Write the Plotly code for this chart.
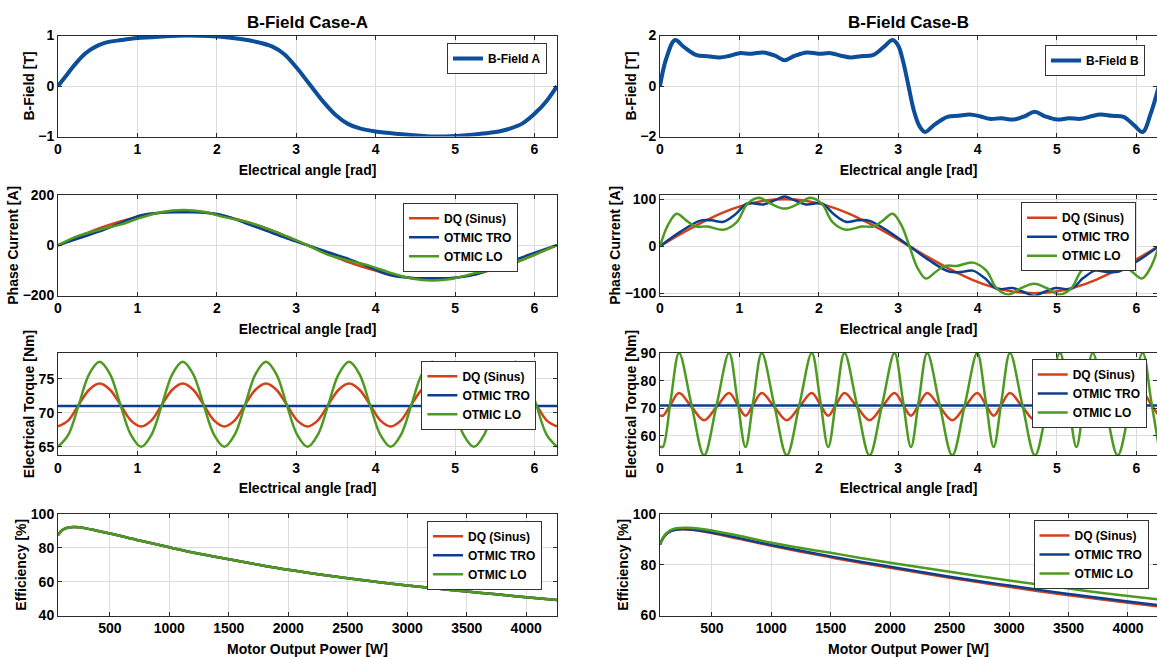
import numpy as np
import plotly.graph_objects as go

# ---------------- data ----------------
angle_a1 = [0, 0.1, 0.2, 0.3, 0.4, 0.5, 0.6, 0.8, 1.0, 1.3, 1.6, 1.9, 2.2, 2.45, 2.7, 2.85,
            3.0, 3.17, 3.35, 3.5, 3.65, 3.8, 4.0, 4.3, 4.7, 5.0, 5.3, 5.55, 5.7, 5.85, 6.0, 6.15, 6.283]
bfield_a = [0, 0.2, 0.4, 0.58, 0.71, 0.8, 0.86, 0.91, 0.95, 0.98, 1.0, 0.99, 0.95, 0.89, 0.78, 0.63,
            0.37, 0.03, -0.33, -0.58, -0.75, -0.84, -0.9, -0.95, -1.0, -0.99, -0.95, -0.9, -0.84, -0.74, -0.55, -0.3, 0]

angle_b1 = [0, 0.08, 0.19, 0.3, 0.46, 0.6, 0.75, 0.88, 1.0, 1.15, 1.3, 1.45, 1.57, 1.7, 1.85, 2.0, 2.15,
            2.28, 2.4, 2.53, 2.68, 2.82, 2.93, 3.0, 3.06, 3.13, 3.2, 3.27, 3.34, 3.45, 3.62, 3.76, 3.9,
            4.03, 4.15, 4.3, 4.45, 4.59, 4.72, 4.85, 5.0, 5.15, 5.3, 5.43, 5.55, 5.69, 5.84, 5.97, 6.08,
            6.18, 6.283]
bfield_b = [0, 1.1, 1.82, 1.55, 1.22, 1.18, 1.13, 1.2, 1.3, 1.28, 1.33, 1.2, 1.02, 1.2, 1.33, 1.28, 1.3,
            1.2, 1.13, 1.18, 1.22, 1.55, 1.82, 1.6, 1.0, 0, -1.0, -1.6, -1.82, -1.55, -1.22, -1.18, -1.13,
            -1.2, -1.3, -1.28, -1.33, -1.2, -1.02, -1.2, -1.33, -1.28, -1.3, -1.2, -1.13, -1.18, -1.22,
            -1.55, -1.82, -1.1, 0]

angle_15 = [0, 0.262, 0.524, 0.785, 1.047, 1.309, 1.571, 1.833, 2.094, 2.356, 2.618, 2.88, 3.142,
            3.403, 3.665, 3.927, 4.189, 4.451, 4.712, 4.974, 5.236, 5.498, 5.76, 6.021, 6.283]
current_a_dq = [0, 35, 68, 95, 117, 130, 135, 130, 117, 95, 68, 35, 0,
                -35, -68, -95, -117, -130, -135, -130, -117, -95, -68, -35, 0]
current_a_tro = [0, 28, 55, 88, 120, 130, 131, 130, 118, 88, 58, 28, 0,
                 -28, -55, -88, -120, -130, -131, -130, -118, -88, -58, -28, 0]
current_a_lo = [0, 38, 62, 82, 110, 132, 140, 133, 112, 95, 68, 35, 0,
                -38, -62, -82, -110, -132, -140, -133, -112, -95, -68, -35, 0]

current_b_dq = [0, 26, 50, 71, 87, 97, 100, 97, 87, 71, 50, 26, 0,
                -26, -50, -71, -87, -97, -100, -97, -87, -71, -50, -26, 0]
angle_b2_tro = [0, 0.25, 0.5, 0.65, 0.8, 0.95, 1.1, 1.3, 1.45, 1.57, 1.69, 1.84, 2.04, 2.19, 2.34, 2.49,
                2.64, 2.89, 3.142, 3.39, 3.64, 3.79, 3.94, 4.09, 4.24, 4.44, 4.59, 4.712, 4.83, 4.98,
                5.18, 5.33, 5.48, 5.63, 5.78, 6.03, 6.283]
current_b_tro = [0, 30, 54, 55, 52, 68, 91, 89, 98, 106, 98, 89, 91, 68, 52, 55, 54, 30, 0,
                 -30, -54, -55, -52, -68, -91, -89, -98, -106, -98, -89, -91, -68, -52, -55, -54, -30, 0]
angle_b2_lo = [0, 0.1, 0.21, 0.33, 0.45, 0.6, 0.8, 0.97, 1.1, 1.25, 1.4, 1.57, 1.74, 1.89, 2.04, 2.17,
               2.34, 2.54, 2.69, 2.81, 2.93, 3.04, 3.142, 3.24, 3.35, 3.47, 3.59, 3.74, 3.94, 4.11,
               4.24, 4.39, 4.54, 4.712, 4.88, 5.03, 5.18, 5.31, 5.48, 5.68, 5.83, 5.95, 6.07, 6.18, 6.283]
current_b_lo = [0, 45, 69, 55, 42, 42, 35, 52, 90, 103, 90, 80, 90, 103, 90, 52, 35, 42, 42, 55, 69, 45, 0,
                -45, -69, -55, -42, -42, -35, -52, -90, -103, -90, -80, -90, -103, -90, -52, -35, -42,
                -42, -55, -69, -45, 0]

angle_a3 = list(np.linspace(0, 2 * np.pi, 49))
torque_a_dq = [68.0, 68.9, 71.2, 73.4, 74.3, 73.4, 71.2, 68.9,
               68.0, 68.9, 71.2, 73.4, 74.3, 73.4, 71.2, 68.9,
               68.0, 68.9, 71.2, 73.4, 74.3, 73.4, 71.2, 68.9,
               68.0, 68.9, 71.2, 73.4, 74.3, 73.4, 71.2, 68.9,
               68.0, 68.9, 71.2, 73.4, 74.3, 73.4, 71.2, 68.9,
               68.0, 68.9, 71.2, 73.4, 74.3, 73.4, 71.2, 68.9, 68.0]
torque_a_lo = [65.0, 66.8, 71.2, 75.7, 77.5, 75.7, 71.2, 66.8,
               65.0, 66.8, 71.2, 75.7, 77.5, 75.7, 71.2, 66.8,
               65.0, 66.8, 71.2, 75.7, 77.5, 75.7, 71.2, 66.8,
               65.0, 66.8, 71.2, 75.7, 77.5, 75.7, 71.2, 66.8,
               65.0, 66.8, 71.2, 75.7, 77.5, 75.7, 71.2, 66.8,
               65.0, 66.8, 71.2, 75.7, 77.5, 75.7, 71.2, 66.8, 65.0]
angle_flat = [0, 6.283]
torque_a_tro = [71.0, 71.0]

angle_b3 = [0, 0.035, 0.135, 0.24, 0.395, 0.555, 0.715, 0.87, 0.975,
            1.077, 1.177, 1.282, 1.437, 1.597, 1.757, 1.912, 2.017,
            2.119, 2.219, 2.324, 2.479, 2.639, 2.799, 2.954, 3.059,
            3.161, 3.261, 3.366, 3.521, 3.681, 3.841, 3.996, 4.101,
            4.203, 4.303, 4.408, 4.563, 4.723, 4.883, 5.038, 5.143,
            5.245, 5.345, 5.45, 5.605, 5.765, 5.925, 6.08, 6.185, 6.283]
torque_b_dq = [67.5,
               67.3, 71.4, 75.5, 70.6, 65.7, 70.6, 75.5, 71.4,
               67.3, 71.4, 75.5, 70.6, 65.7, 70.6, 75.5, 71.4,
               67.3, 71.4, 75.5, 70.6, 65.7, 70.6, 75.5, 71.4,
               67.3, 71.4, 75.5, 70.6, 65.7, 70.6, 75.5, 71.4,
               67.3, 71.4, 75.5, 70.6, 65.7, 70.6, 75.5, 71.4,
               67.3, 71.4, 75.5, 70.6, 65.7, 70.6, 75.5, 71.4, 67.3]
torque_b_lo = [56.3,
               56, 73, 90, 71.5, 53, 71.5, 90, 73,
               56, 73, 90, 71.5, 53, 71.5, 90, 73,
               56, 73, 90, 71.5, 53, 71.5, 90, 73,
               56, 73, 90, 71.5, 53, 71.5, 90, 73,
               56, 73, 90, 71.5, 53, 71.5, 90, 73,
               56, 73, 90, 71.5, 53, 71.5, 90, 73, 56]
torque_b_tro = [71.0, 71.0]

power_w = [64, 100, 150, 200, 300, 400, 500, 750, 1000, 1250, 1500, 1750, 2000, 2250, 2500,
           2750, 3000, 3250, 3500, 3750, 4000, 4259]
eff_a_dq = [87.5, 90.5, 92.0, 92.3, 91.5, 90.0, 88.5, 84.3, 80.3, 76.5, 73.2, 70.0, 67.0, 64.4, 62.0,
            59.8, 57.7, 55.9, 54.2, 52.5, 50.8, 49.2]
eff_a_tro = [87.5, 90.5, 92.0, 92.3, 91.5, 90.0, 88.5, 84.3, 80.3, 76.5, 73.2, 70.0, 67.0, 64.4, 62.0,
             59.8, 57.7, 55.9, 54.2, 52.5, 50.8, 49.2]
eff_a_lo = [87.5, 90.5, 92.0, 92.3, 91.5, 90.0, 88.5, 84.3, 80.3, 76.5, 73.2, 70.0, 67.0, 64.4, 62.0,
            59.8, 57.7, 55.9, 54.2, 52.5, 50.8, 49.2]
eff_b_dq = [88.0, 91.1, 93.1, 93.8, 93.9, 93.3, 92.5, 90.0, 87.5, 85.1, 82.9, 80.8, 78.8, 76.8, 74.9,
            73.1, 71.3, 69.6, 68.0, 66.5, 65.0, 63.6]
eff_b_tro = [88.0, 91.2, 93.2, 93.9, 94.0, 93.5, 92.7, 90.3, 87.8, 85.5, 83.3, 81.2, 79.2, 77.2, 75.3,
             73.5, 71.8, 70.1, 68.5, 67.0, 65.5, 64.1]
eff_b_lo = [88.2, 91.5, 93.6, 94.4, 94.6, 94.2, 93.5, 91.2, 88.7, 86.6, 84.7, 82.7, 80.8, 79.0, 77.2,
            75.5, 73.8, 72.2, 70.6, 69.1, 67.7, 66.3]

angle_ticks = [0, 1, 2, 3, 4, 5, 6]
power_ticks = [500, 1000, 1500, 2000, 2500, 3000, 3500, 4000]
series_names = ["DQ (Sinus)", "OTMIC TRO", "OTMIC LO"]

# ---------------- styling ----------------
RED = "#D3401B"
BLUE = "#0B3F8E"
GREEN = "#4C9A20"
BF = "#0C4E99"
FONT = "Liberation Sans, Arial, sans-serif"
W, H = 1157, 657


def dom_x(a, b):
    return [a / W, min(b / W, 1.0)]


def dom_y(top, bot):
    return [1 - bot / H, 1 - top / H]


col_dom = {1: dom_x(58, 557), 2: dom_x(660, 1157)}
row_dom = {1: dom_y(35.5, 136.5), 2: dom_y(195, 295.5), 3: dom_y(353, 455), 4: dom_y(514, 615.5)}

fig = go.Figure()


def add(x, y, name, color, width, idx, showlegend=True):
    fig.add_trace(go.Scatter(
        x=x, y=y, name=name, mode="lines",
        line=dict(color=color, width=width, shape="spline", smoothing=1.0),
        xaxis="x" if idx == 1 else f"x{idx}", yaxis="y" if idx == 1 else f"y{idx}",
        legend="legend" if idx == 1 else f"legend{idx}", showlegend=showlegend,
    ))


add(angle_a1, bfield_a, "B-Field A", BF, 4, 1)
add(angle_b1, bfield_b, "B-Field B", BF, 4, 2)

add(angle_15, current_a_dq, series_names[0], RED, 2.5, 3)
add(angle_15, current_a_tro, series_names[1], BLUE, 2.5, 3)
add(angle_15, current_a_lo, series_names[2], GREEN, 2.5, 3)

add(angle_15, current_b_dq, series_names[0], RED, 2.5, 4)
add(angle_b2_tro, current_b_tro, series_names[1], BLUE, 2.5, 4)
add(angle_b2_lo, current_b_lo, series_names[2], GREEN, 2.5, 4)

add(angle_a3, torque_a_dq, series_names[0], RED, 2.5, 5)
add(angle_flat, torque_a_tro, series_names[1], BLUE, 2.5, 5)
add(angle_a3, torque_a_lo, series_names[2], GREEN, 2.5, 5)

add(angle_b3, torque_b_dq, series_names[0], RED, 2.5, 6)
add(angle_flat, torque_b_tro, series_names[1], BLUE, 2.5, 6)
add(angle_b3, torque_b_lo, series_names[2], GREEN, 2.5, 6)

add(power_w, eff_a_dq, series_names[0], RED, 2.5, 7)
add(power_w, eff_a_tro, series_names[1], BLUE, 2.5, 7)
add(power_w, eff_a_lo, series_names[2], GREEN, 2.5, 7)

add(power_w, eff_b_dq, series_names[0], RED, 2.5, 8)
add(power_w, eff_b_tro, series_names[1], BLUE, 2.5, 8)
add(power_w, eff_b_lo, series_names[2], GREEN, 2.5, 8)

tick_font = dict(family=FONT, size=14, color="black", weight="bold")
title_font = dict(family=FONT, size=14, color="black", weight="bold")

axis_common = dict(
    showline=True, linecolor="#2b2b2b", linewidth=1, mirror="ticks",
    ticks="inside", ticklen=4, tickcolor="#2b2b2b", tickwidth=1,
    showgrid=True, gridcolor="#dcdcdc", gridwidth=1, zeroline=False,
    tickfont=tick_font, automargin=False,
)

x_ranges = {1: [0, 2 * np.pi], 2: [0, 6.26], 3: [0, 2 * np.pi], 4: [0, 6.26],
            5: [0, 2 * np.pi], 6: [0, 6.26], 7: [64, 4259], 8: [64, 4244]}
y_ranges = {1: [-1, 1], 2: [-2, 2], 3: [-200, 200], 4: [-105, 109],
            5: [63.8, 78.8], 6: [53.1, 90], 7: [40, 100], 8: [60, 100]}
y_ticks = {1: [-1, 0, 1], 2: [-2, 0, 2], 3: [-200, 0, 200], 4: [-100, 0, 100],
           5: [65, 70, 75], 6: [60, 70, 80, 90], 7: [40, 60, 80, 100], 8: [60, 80, 100]}
y_titles = {1: "B-Field [T]", 2: "B-Field [T]", 3: "Phase Current [A]", 4: "Phase Current [A]",
            5: "Electrical Torque [Nm]", 6: "Electrical Torque [Nm]", 7: "Efficiency [%]", 8: "Efficiency [%]"}

legend_pos = {1: (547, 43), 2: (1145, 45), 3: (518, 202.7), 4: (1136, 202.3),
              5: (536.4, 360.7), 6: (1146.7, 359), 7: (542, 520.7), 8: (1148.5, 520)}

layout = dict(
    width=W, height=H, margin=dict(l=0, r=0, t=0, b=0),
    paper_bgcolor="white", plot_bgcolor="white", template="none",
    font=dict(family=FONT, color="black"),
)

for i in range(1, 9):
    r = (i - 1) // 2 + 1
    c = (i - 1) % 2 + 1
    xs = "xaxis" if i == 1 else f"xaxis{i}"
    ys = "yaxis" if i == 1 else f"yaxis{i}"
    yref = "y" if i == 1 else f"y{i}"
    xref = "x" if i == 1 else f"x{i}"
    xt = "Motor Output Power [W]" if r == 4 else "Electrical angle [rad]"
    layout[xs] = dict(axis_common, domain=col_dom[c], anchor=yref, range=x_ranges[i],
                      tickvals=power_ticks if r == 4 else angle_ticks,
                      title=dict(text=xt, font=title_font, standoff=8))
    layout[ys] = dict(axis_common, domain=row_dom[r], anchor=xref, range=y_ranges[i],
                      tickvals=y_ticks[i],
                      title=dict(text=y_titles[i], font=title_font, standoff=0))
    lx, ly = legend_pos[i]
    lg = "legend" if i == 1 else f"legend{i}"
    layout[lg] = dict(x=lx / W, y=1 - ly / H, xanchor="right", yanchor="top",
                      bgcolor="white", bordercolor="#333333", borderwidth=1,
                      font=dict(family=FONT, size=12, color="black", weight="bold"),
                      tracegroupgap=0, itemwidth=30)

layout["annotations"] = [
    dict(text="B-Field Case-A", x=307.5 / W, y=1 - 23 / H, xref="paper", yref="paper",
         showarrow=False, xanchor="center", yanchor="middle",
         font=dict(family=FONT, size=17, color="black", weight="bold")),
    dict(text="B-Field Case-B", x=908 / W, y=1 - 23 / H, xref="paper", yref="paper",
         showarrow=False, xanchor="center", yanchor="middle",
         font=dict(family=FONT, size=17, color="black", weight="bold")),
]

fig.update_layout(**layout)
fig.write_html("out.html", config={"displayModeBar": False},
               post_script="document.body.style.margin='0';document.body.style.overflow='hidden';")
